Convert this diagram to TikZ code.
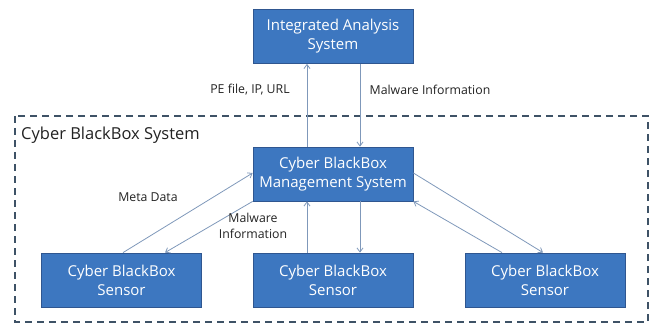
\documentclass[tikz,border=0pt]{standalone}
\usepackage{fontspec}
\setmainfont{Open Sans}
\usetikzlibrary{arrows.meta}
\definecolor{boxfill}{HTML}{3D77C0}
\definecolor{boxline}{HTML}{2F5690}
\definecolor{flow}{HTML}{7F98BA}
\definecolor{frame}{HTML}{3E5266}
\definecolor{labeltext}{HTML}{222222}
\begin{document}
\begin{tikzpicture}[x=1pt,y=-1pt,
  unit/.style={draw=boxline,line width=0.8pt,fill=boxfill,text=white,
    minimum width=160pt,minimum height=54pt,align=center,inner sep=2pt,
    font=\fontsize{15}{19}\selectfont},
  flowline/.style={draw=flow,line width=0.8pt,-{Straight Barb[length=4pt,width=6pt]}},
  tag/.style={text=labeltext,font=\fontsize{12.3}{16}\selectfont,align=center,inner sep=1pt}]
  \useasboundingbox (0,0) rectangle (656,326);
  % outer system boundary
  \draw[frame,line width=1.3pt,dash pattern=on 7pt off 5pt] (15,116) rectangle (648,322);
  \node[anchor=west,text=labeltext,font=\fontsize{16.5}{19}\selectfont,inner sep=0pt] (title) at (21,135) {Cyber BlackBox System};
  % units
  \node[unit] (ias) at (333,36.5) {Integrated Analysis\\System};
  \node[unit] (cms) at (333,174) {Cyber BlackBox\\Management System};
  \node[unit] (s1) at (121.5,280) {Cyber BlackBox\\Sensor};
  \node[unit] (s2) at (333,280) {Cyber BlackBox\\Sensor};
  \node[unit] (s3) at (545,280) {Cyber BlackBox\\Sensor};
  % named end points on the unit borders
  \coordinate (cmsN1) at ([xshift=-26pt]cms.north);
  \coordinate (cmsN2) at ([xshift=27pt]cms.north);
  \coordinate (iasS1) at ([xshift=-26pt]ias.south);
  \coordinate (iasS2) at ([xshift=27pt]ias.south);
  \coordinate (cmsS1) at ([xshift=-26pt]cms.south);
  \coordinate (cmsS2) at ([xshift=27pt]cms.south);
  \coordinate (s2N1) at ([xshift=-26pt]s2.north);
  \coordinate (s2N2) at ([xshift=27pt]s2.north);
  \coordinate (cmsW1) at ([yshift=1pt]cms.west);
  \coordinate (s1N1) at ([xshift=1.5pt]s1.north);
  \coordinate (s1N2) at ([xshift=43.5pt]s1.north);
  \coordinate (cmsE1) at ([yshift=1pt]cms.east);
  \coordinate (s3N1) at ([xshift=-2pt]s3.north);
  \coordinate (s3N2) at ([xshift=-43pt]s3.north);
  % flows
  \draw[flowline] (cmsN1) -- (iasS1);
  \draw[flowline] (iasS2) -- (cmsN2);
  \draw[flowline] (s2N1) -- (cmsS1);
  \draw[flowline] (cmsS2) -- (s2N2);
  \draw[flowline] (s1N1) -- (cmsW1);
  \draw[flowline] (cms.south west) -- (s1N2);
  \draw[flowline] (cmsE1) -- (s3N1);
  \draw[flowline] (s3N2) -- (cms.south east);
  % flow labels
  \node[tag] (l1) at (250,90) {PE file, IP, URL};
  \node[tag] (l2) at (430,90) {Malware Information};
  \node[tag] (l3) at (148,197) {Meta Data};
  \node[tag] (l4) at (253,226) {Malware\\Information};
\end{tikzpicture}
\end{document}
